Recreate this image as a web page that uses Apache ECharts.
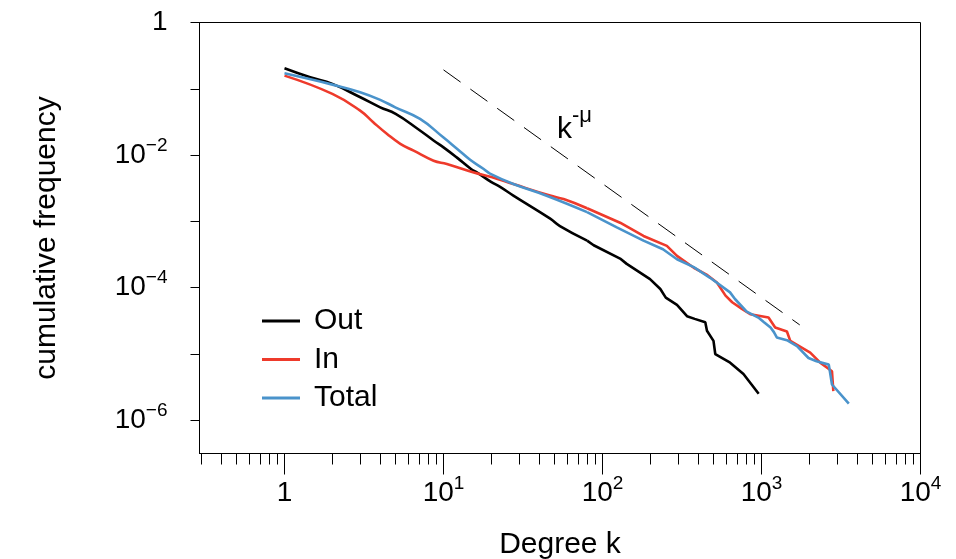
<!DOCTYPE html>
<html>
<head>
<meta charset="utf-8">
<script src="https://cdn.jsdelivr.net/npm/echarts@6/dist/echarts.min.js"></script>
<style>
  html, body { margin: 0; padding: 0; background: #ffffff; }
  #chart { width: 956px; height: 559px; }
</style>
</head>
<body>
<div id="chart"></div>
<script>
// Cumulative degree distributions (log-log), out-, in- and total degree.
const outK = [1, 1.45, 2, 3, 4, 5, 6.9, 8.7, 10, 12.1, 14.9, 16.2, 19.9, 22.7, 27.5, 46.9, 54, 80, 88, 129,
  142, 199, 231, 250, 294, 340, 380, 443, 454, 499, 512, 635, 770, 960];
const outFreq = [0.204, 0.149, 0.1186, 0.0745, 0.0526, 0.0418, 0.0248, 0.0165, 0.0131, 0.00925,
  0.00618, 0.0055, 0.00395, 0.00331, 0.00245, 0.0011, 0.000851, 0.000513, 0.000437, 0.000275,
  0.000229, 0.000135, 9.55e-5, 7.08e-5, 5.5e-5, 3.72e-5, 3.39e-5, 3.02e-5, 2.24e-5, 1.58e-5,
  1.0e-5, 7.41e-6, 5.01e-6, 2.51e-6];

const inK = [1, 2, 2.99, 3.6, 4.42, 5.35, 6.49, 8.66, 10.5, 15.5, 20, 27.5, 46.8, 56.9, 80, 129, 181, 254,
  294, 375, 451, 524, 594, 654, 753, 850, 1107, 1219, 1445, 1517, 2025, 2340, 2775, 2830];
const inFreq = [0.158, 0.0838, 0.0469, 0.0316, 0.0208, 0.0148, 0.01167, 0.00824, 0.00735, 0.00548,
  0.00468, 0.00366, 0.00245, 0.00217, 0.00158, 0.000955, 0.000603, 0.000427, 0.000302, 0.0002,
  0.000158, 0.00012, 7.59e-5, 6.03e-5, 4.79e-5, 3.98e-5, 3.55e-5, 2.51e-5, 2.19e-5, 1.58e-5,
  1.05e-5, 7.41e-6, 5.5e-6, 2.75e-6];

const totalK = [1, 2.03, 2.99, 4, 4.97, 7.12, 9.96, 12.1, 14.7, 17.9, 19.6, 27.5, 44.5, 80, 123, 181, 240,
  294, 375, 475, 634, 681, 807, 955, 1037, 1140, 1197, 1248, 1445, 1672, 1975, 2220, 2650, 2775, 3540];
const totalFreq = [0.171, 0.1146, 0.0887, 0.0681, 0.0526, 0.0351, 0.01854, 0.01259, 0.00851, 0.00617,
  0.00525, 0.00366, 0.00244, 0.00138, 0.000813, 0.000513, 0.00038, 0.000269, 0.000204, 0.000141,
  8.51e-5, 6.76e-5, 4.37e-5, 3.55e-5, 3.02e-5, 2.51e-5, 2.14e-5, 1.78e-5, 1.62e-5, 1.32e-5,
  8.71e-6, 7.76e-6, 6.92e-6, 3.47e-6, 1.78e-6];

// Reference power law k^-mu
const guideK = [10, 1740];
const guideFreq = [0.193, 2.75e-5];

// Axis ranges and ticks
const xRange = [0.292, 10000];
const yRange = [3.16e-7, 1];
const xMajorTicks = [1, 10, 100, 1000, 10000];
const xMinorSteps = [2, 3, 4, 5, 6, 7, 8, 9];
const yTicks = [1e-6, 1e-5, 1e-4, 1e-3, 1e-2, 1e-1, 1];
const yLabelTicks = [1e-6, 1e-4, 1e-2, 1];

// Degrees up to this value form the smooth body of each curve; beyond it the
// sparse tail is drawn as straight segments.
const smoothUpTo = 80;

const FONT = '"Liberation Sans", Arial, Helvetica, sans-serif';
const lg = v => Math.log10(v);
const toPairs = (ks, fs) => ks.map((k, i) => [lg(k), lg(fs[i])]);

const xMinorTicks = [];
[0.1, 1, 10, 100, 1000].forEach(d => xMinorSteps.forEach(m => {
  const v = d * m;
  if (v >= xRange[0] && v <= xRange[1]) xMinorTicks.push(v);
}));

// 10^n labels: the base sits at the bottom of a tall line, the exponent at its top
const powRich = {
  b: { fontSize: 28, fontFamily: FONT, color: '#000', lineHeight: 33, verticalAlign: 'bottom' },
  s: { fontSize: 19, fontFamily: FONT, color: '#000', lineHeight: 19, verticalAlign: 'top' }
};
const powLabel = e => {
  const n = Math.round(e);
  if (n === 0) return '{b|1}';
  return '{b|10}{s|' + (n < 0 ? '\u2212' + (-n) : n) + '}';
};

// One legend entry per curve: body and tail share the series name.
function curveSeries(name, ks, fs, color) {
  const pts = toPairs(ks, fs);
  let cut = 0;
  while (cut < ks.length - 1 && ks[cut] < smoothUpTo) cut++;
  const common = {
    name, type: 'line', showSymbol: false, symbol: 'none',
    lineStyle: { color, width: 2.6 }, itemStyle: { color }
  };
  return [
    Object.assign({}, common, { data: pts.slice(0, cut + 1), smooth: 0.45 }),
    Object.assign({}, common, { data: pts.slice(cut), smooth: false })
  ];
}

const chart = echarts.init(document.getElementById('chart'), null, { renderer: 'canvas' });

const axisLineStyle = { color: '#000', width: 1 };

chart.setOption({
  animation: false,
  backgroundColor: '#ffffff',
  textStyle: { fontFamily: FONT },
  grid: {
    left: 199.5, right: 35.5, top: 22.5, bottom: 105.5,
    show: true, borderColor: '#000', borderWidth: 1, backgroundColor: 'transparent',
    containLabel: false, outerBoundsMode: 'none'
  },
  xAxis: [
    {
      type: 'value', position: 'bottom', min: lg(xRange[0]), max: lg(xRange[1]),
      axisLine: { show: true, onZero: false, lineStyle: axisLineStyle },
      axisTick: { show: true, inside: false, length: 21, lineStyle: axisLineStyle, customValues: xMajorTicks.map(lg) },
      axisLabel: { show: true, margin: 21, customValues: xMajorTicks.map(lg), formatter: powLabel, rich: powRich },
      splitLine: { show: false },
      name: 'Degree k', nameLocation: 'middle', nameGap: 76,
      nameTextStyle: { fontSize: 30, color: '#000', fontFamily: FONT }
    },
    {
      type: 'value', position: 'bottom', gridIndex: 0, min: lg(xRange[0]), max: lg(xRange[1]),
      axisLine: { show: false, onZero: false },
      axisTick: { show: true, inside: false, length: 11, lineStyle: axisLineStyle, customValues: xMinorTicks.map(lg) },
      axisLabel: { show: false },
      splitLine: { show: false }
    }
  ],
  yAxis: {
    type: 'value', min: lg(yRange[0]), max: lg(yRange[1]),
    axisLine: { show: true, onZero: false, lineStyle: axisLineStyle },
    axisTick: { show: true, inside: false, length: 9, lineStyle: axisLineStyle, customValues: yTicks.map(lg) },
    axisLabel: { show: true, margin: 32, padding: [0, 0, 5, 0], customValues: yLabelTicks.map(lg), formatter: powLabel, rich: powRich },
    splitLine: { show: false },
    name: 'cumulative frequency', nameLocation: 'middle', nameGap: 138, nameRotate: 90,
    nameTextStyle: { fontSize: 30, color: '#000', fontFamily: FONT }
  },
  legend: {
    orient: 'vertical', left: 262, top: 306, padding: 0,
    itemWidth: 38, itemHeight: 3, itemGap: 8.5, icon: 'rect', selectedMode: false,
    data: ['Out', 'In', 'Total'],
    textStyle: { fontSize: 30, color: '#000', fontFamily: FONT, lineHeight: 30, padding: [0, 0, 0, 9] }
  },
  graphic: [{
    type: 'text', left: 557, top: 105, silent: true,
    style: {
      text: '{k|k}{s|-\u03bc}',
      rich: {
        k: { fontSize: 30, fontFamily: FONT, fill: '#000', lineHeight: 40, verticalAlign: 'bottom' },
        s: { fontSize: 22, fontFamily: FONT, fill: '#000', lineHeight: 22, verticalAlign: 'top' }
      }
    }
  }],
  series: [].concat(
    curveSeries('Out', outK, outFreq, '#000000'),
    curveSeries('In', inK, inFreq, '#EE3A2B'),
    curveSeries('Total', totalK, totalFreq, '#4A93CB'),
    [{
      name: 'guide', type: 'line', data: toPairs(guideK, guideFreq), showSymbol: false, symbol: 'none',
      lineStyle: { color: '#000000', width: 1, type: [21, 12] }, silent: true
    }]
  )
});
</script>
</body>
</html>
